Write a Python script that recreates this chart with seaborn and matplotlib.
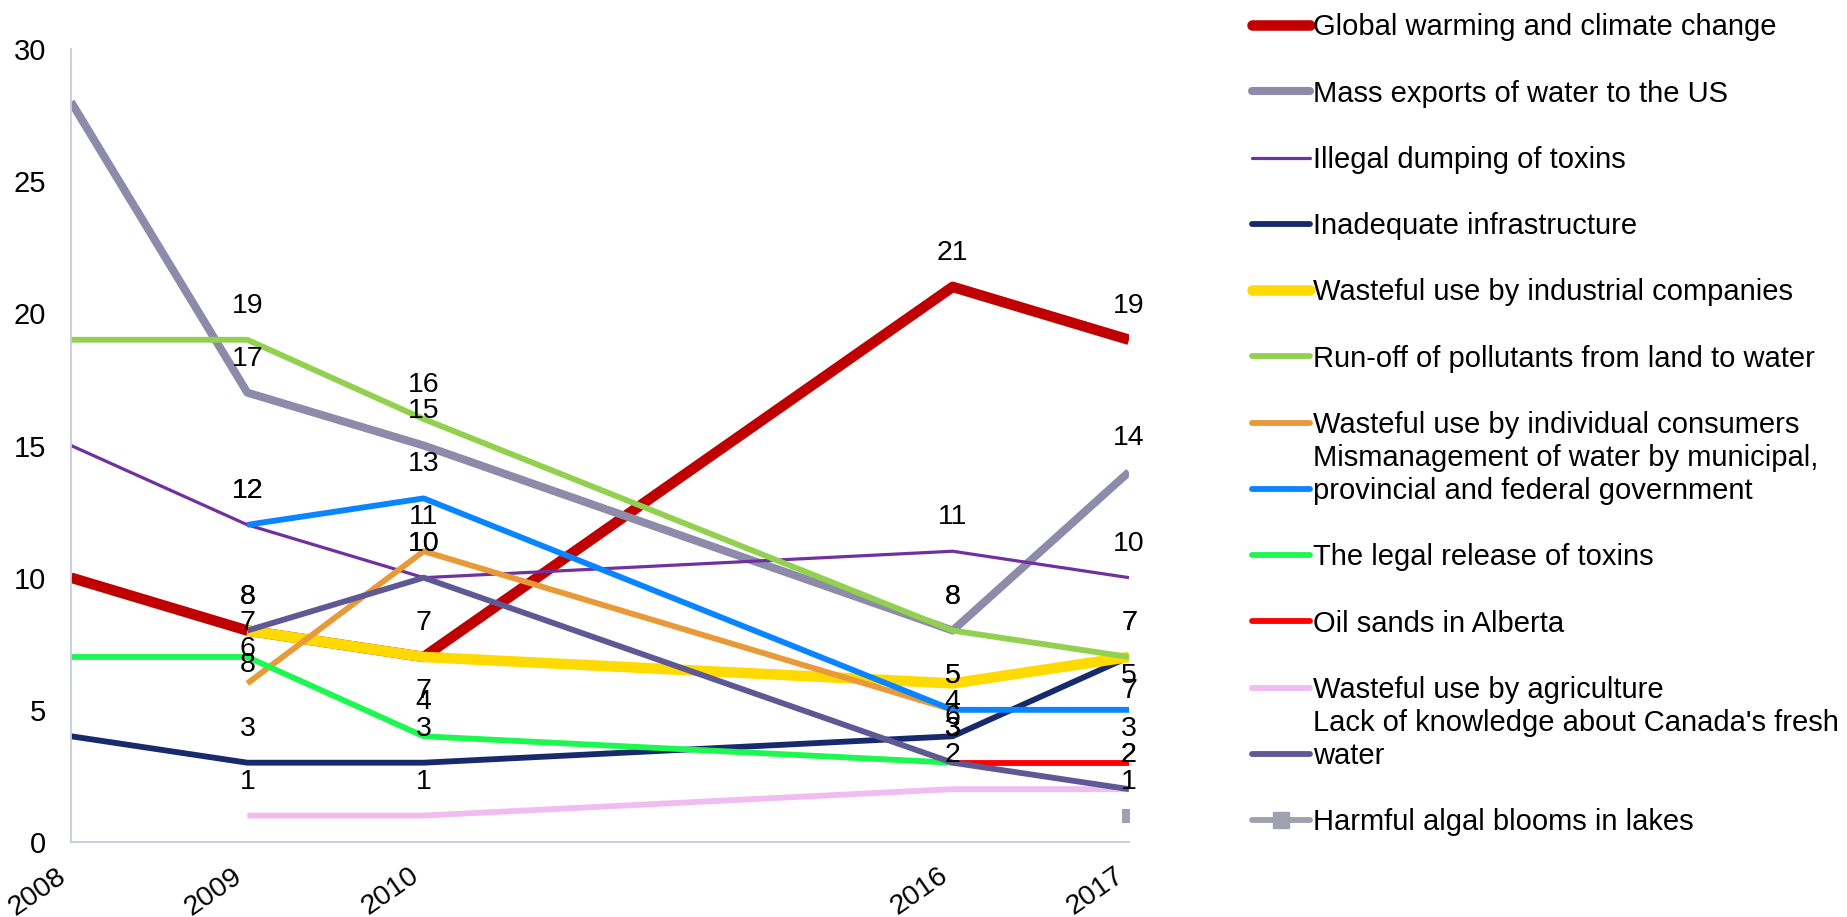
import matplotlib
matplotlib.use('Agg')
import matplotlib.pyplot as plt
from matplotlib.lines import Line2D
import seaborn as sns
import pandas as pd

# categories on the x axis (two empty slots between 2010 and 2016)
year_ticks = ['2008', '2009', '2010', '', '', '2016', '2017']
years = ['2008', '2009', '2010', '2016', '2017']

series_names = [
    'Global warming and climate change',
    'Mass exports of water to the US',
    'Illegal dumping of toxins',
    'Inadequate infrastructure',
    'Wasteful use by industrial companies',
    'Run-off of pollutants from land to water',
    'Wasteful use by individual consumers',
    'Mismanagement of water by municipal,\nprovincial and federal government',
    'The legal release of toxins',
    'Oil sands in Alberta',
    'Wasteful use by agriculture',
    "Lack of knowledge about Canada's fresh\nwater",
    'Harmful algal blooms in lakes',
]

global_warming = [10, 8, 7, 21, 19]
mass_exports = [28, 17, 15, 8, 14]
illegal_dumping = [15, 12, 10, 11, 10]
infrastructure = [4, 3, 3, 4, 7]
industrial = [None, 8, 7, 6, 7]
runoff = [19, 19, 16, 8, 7]
consumers = [None, 6, 11, 5, None]
mismanagement = [None, 12, 13, 5, 5]
legal_release = [7, 7, 4, 3, None]
oil_sands = [None, None, None, 3, 3]
agriculture = [None, 1, 1, 2, 2]
lack_knowledge = [None, 8, 10, 3, 2]
algal_blooms = [None, None, None, None, 1]

series_values = [global_warming, mass_exports, illegal_dumping, infrastructure,
                 industrial, runoff, consumers, mismanagement, legal_release,
                 oil_sands, agriculture, lack_knowledge, algal_blooms]

colors = ['#C00000', '#8C8BA9', '#7030A0', '#172A6C', '#FFDA00', '#92D050',
          '#E99A38', '#0A84FF', '#1EF752', '#FF0000', '#F0BCF2', '#5E5894',
          '#A0A0B0']
widths = [7.6, 5.8, 2.3, 4.2, 7.6, 4.2, 4.2, 4.2, 4.2, 4.2, 4.2, 4.2, 4.2]

# series whose data labels sit below the point
labels_below = ['Wasteful use by industrial companies']

rows = []
for name, vals in zip(series_names, series_values):
    for yr, v in zip(years, vals):
        if v is not None:
            rows.append({'series': name, 'pos': year_ticks.index(yr), 'value': v})
df = pd.DataFrame(rows)

sns.set_style('white')
plt.rcParams['font.family'] = ['Liberation Sans', 'DejaVu Sans']
plt.rcParams['lines.solid_capstyle'] = 'butt'
plt.rcParams['lines.solid_joinstyle'] = 'round'

W, H = 1847, 917
fig = plt.figure(figsize=(W / 100, H / 100), dpi=100)
ax = fig.add_axes([71 / W, 1 - 842 / H, (1129 - 71) / W, (842 - 49) / H])

line_names = series_names[:-1]
sns.lineplot(data=df[df['series'].isin(line_names)], x='pos', y='value',
             hue='series', hue_order=line_names,
             palette=dict(zip(series_names, colors)),
             size='series', size_order=line_names,
             sizes=dict(zip(series_names, widths)),
             sort=False, estimator=None, legend=False, ax=ax)
sns.scatterplot(data=df[df['series'] == series_names[-1]], x='pos', y='value',
                marker='s', s=90, color=colors[-1], linewidth=0, ax=ax, zorder=5)

# data labels (none in the first year)
for name, vals in zip(series_names, series_values):
    off = -24.5 if name in labels_below else 24.5
    for yr, v in zip(years, vals):
        if v is None or yr == years[0]:
            continue
        ax.annotate(str(v), (year_ticks.index(yr), v), xytext=(0, off),
                    textcoords='offset points', ha='center', va='center',
                    fontsize=20.5, color='black', zorder=10)

ax.set_xlim(0, 6)
ax.set_ylim(0, 30)
ax.set_xticks(range(len(year_ticks)))
ax.set_xticklabels(year_ticks, rotation=35, ha='right', va='top')
ax.set_yticks(range(0, 31, 5))
ax.set_xlabel('')
ax.set_ylabel('')
axis_col = '#C5CBDD'
for side in ['top', 'right']:
    ax.spines[side].set_visible(False)
for side in ['left', 'bottom']:
    ax.spines[side].set_color(axis_col)
    ax.spines[side].set_linewidth(1.3)
ax.tick_params(axis='both', direction='out', length=6, width=1.0,
               color=axis_col, labelsize=21, labelcolor='black')
ax.tick_params(axis='y', pad=12)
ax.tick_params(axis='x', pad=9, labelsize=20.5)

# legend drawn entry by entry, evenly spaced like the original
fs = 21
fs_px = fs * 100 / 72
for i, name in enumerate(series_names):
    y_px = 25 + i * 66.25
    yf = 1 - y_px / H
    if name == series_names[-1]:
        h = Line2D([1252 / W, 1281 / W, 1310 / W], [yf, yf, yf],
                   transform=fig.transFigure, color=colors[i], lw=widths[i],
                   marker='s', markersize=11, markevery=[1],
                   solid_capstyle='round')
    else:
        h = Line2D([1252 / W, 1310 / W], [yf, yf], transform=fig.transFigure,
                   color=colors[i], lw=widths[i], solid_capstyle='round')
    fig.add_artist(h)
    yb = 1 - (y_px + 0.358 * fs_px) / H
    fig.text(1313 / W, yb, name, ha='left', va='baseline', fontsize=fs,
             linespacing=1.25, color='black')

fig.savefig('out.png', dpi=100)
